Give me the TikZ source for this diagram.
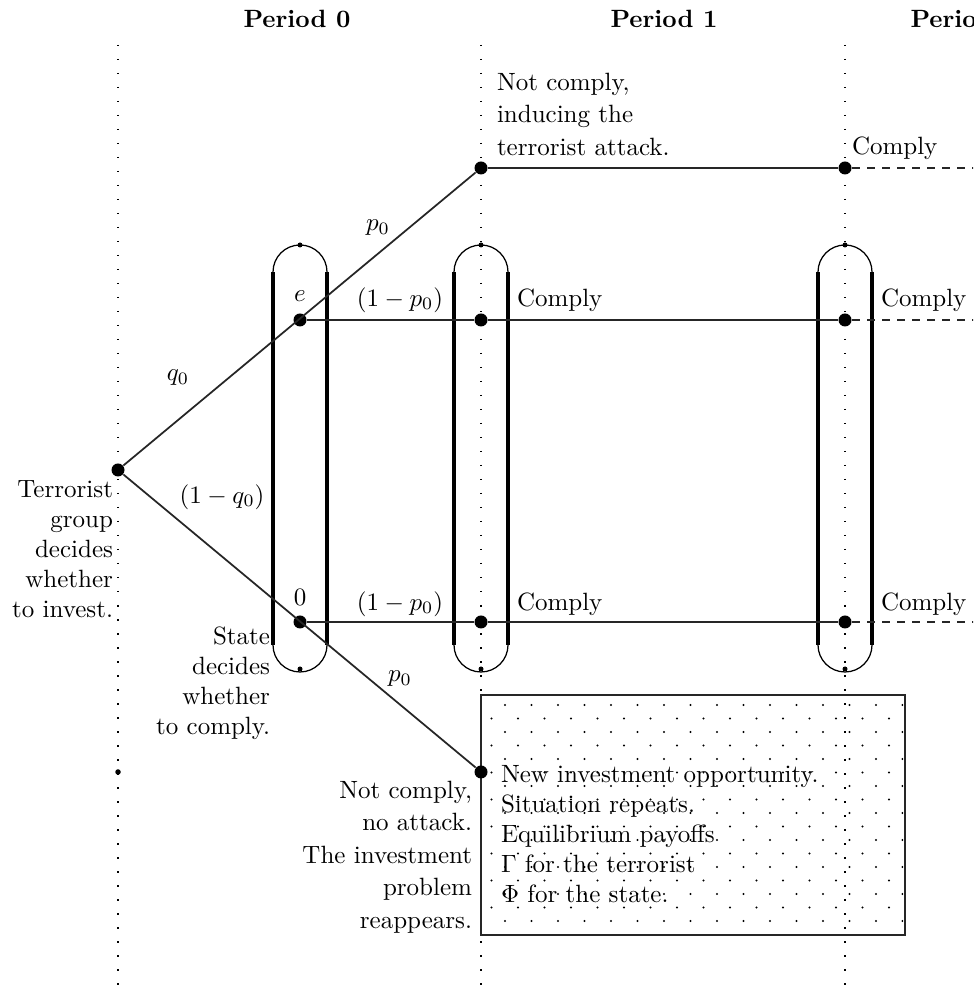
\documentclass[tikz,border=0pt]{standalone}
\begin{document}
\begin{tikzpicture}[x=0.4pt,y=0.4pt]
			\tikzstyle{bigdot} = [shape=circle, fill=black, inner sep=0, minimum size=5.2pt]
			\tikzstyle{smalldot} = [shape=circle, fill=black, inner sep=0, minimum size=2.2pt]
			\tikzstyle{invisible} = [outer sep=0,inner sep=0,minimum size=0]
			\tikzstyle{branch} = [line width=0.7pt, black!85]
			\tikzstyle{vdots} = [line width=0.6pt, dash pattern=on 0.6pt off 5pt]
			\tikzstyle{oval} = [line width=1.4pt]
			\tikzstyle{wide} = [font=\fontsize{10}{13}\selectfont]
			\path [use as bounding box, clip] (0,0) rectangle (973,998);
			\node [invisible,font=\bfseries] (v1) at (297,979) {Period 0};
			\node [invisible,font=\bfseries] (v2) at (664,979) {Period 1};
			\node [invisible,font=\bfseries] (v3) at (964,979) {Period 2};
			\foreach \x in {118,481,845}
			{
				\draw [vdots] (\x,953) -- (\x,8);
			}
			\draw [branch] (481,63) rectangle (905,303);
			\begin{scope}
				\clip (483,65) rectangle (903,301);
				\foreach \j in {0,...,8}
				{
					\foreach \k in {0,...,15}
					{
						\fill (505+26.5*\k,293-27*\j) circle (0.45pt);
						\fill (491.5+26.5*\k,279.5-27*\j) circle (0.45pt);
					}
				}
			\end{scope}
			\foreach \x in {300,481,845}
			{
				\draw [oval] (\x-27,726) -- (\x-27,353);
				\draw [oval] (\x+27,726) -- (\x+27,353);
				\draw [line width=0.5pt] (\x-27,726) arc (180:0:27);
				\draw [line width=0.5pt] (\x-27,353) arc (180:360:27);
				\fill (\x,753) circle (1pt);
				\fill (\x,329) circle (1pt);
			}
			\node [bigdot] (v4) at (118,528) {};
			\node [bigdot] (v5) at (481,830) {};
			\node [bigdot] (v6) at (300,678) {};
			\node [bigdot] (v7) at (300,376) {};
			\node [bigdot] (v8) at (481,226) {};
			\node [bigdot] (v9) at (481,678) {};
			\node [bigdot] (v10) at (845,678) {};
			\node [bigdot] (v11) at (481,376) {};
			\node [bigdot] (v12) at (845,376) {};
			\node [bigdot] (v13) at (845,830) {};
			\node [smalldot] (v14) at (118,226) {};
			\coordinate (v15) at (985,830);
			\coordinate (v16) at (985,678);
			\coordinate (v17) at (985,376);
			\draw [branch] (v4) -- (v5);
			\draw [branch] (v4) -- (v8);
			\draw [branch] (v5) -- (v13);
			\draw [branch] (v6) -- (v9) -- (v10);
			\draw [branch] (v7) -- (v11) -- (v12);
			\draw [branch, dashed] (v13) -- (v15);
			\draw [branch, dashed] (v10) -- (v16);
			\draw [branch, dashed] (v12) -- (v17);
			\node [invisible] (v18) at (300,702) {$e$};
			\node [invisible] (v19) at (300,401) {$0$};
			\node [invisible] (v20) at (400,698) {$(1-p_0)$};
			\node [invisible] (v21) at (400,394) {$(1-p_0)$};
			\node [invisible] (v22) at (378,770) {$p_0$};
			\node [invisible] (v23) at (400,319) {$p_0$};
			\node [invisible] (v24) at (178,620) {$q_0$};
			\node [invisible] (v25) at (222,501) {$(1-q_0)$};
			\node [invisible,anchor=west] (v26) at (852,850) {Comply};
			\node [invisible,anchor=west] (v27) at (517,698) {Comply};
			\node [invisible,anchor=west] (v28) at (881,698) {Comply};
			\node [invisible,anchor=west] (v29) at (517,394) {Comply};
			\node [invisible,anchor=west] (v30) at (881,394) {Comply};
			\node [invisible,wide,anchor=north west,align=left] (v31) at (497,925) {Not comply,\\inducing the\\terrorist attack.};
			\node [invisible,anchor=north east,align=right] (v32) at (113,517) {Terrorist\\group\\decides\\whether\\to invest.};
			\node [invisible,anchor=north east,align=right] (v33) at (270,371) {State\\decides\\whether\\to comply.};
			\node [invisible,wide,anchor=north east,align=right] (v34) at (472,217) {Not comply,\\no attack.\\The investment\\problem\\reappears.};
			\node [invisible,anchor=north west,align=left] (v35) at (501,233) {New investment opportunity.\\Situation repeats.\\Equilibrium payoffs\\$\Gamma$ for the terrorist\\$\Phi$ for the state.};
\end{tikzpicture}
\end{document}
